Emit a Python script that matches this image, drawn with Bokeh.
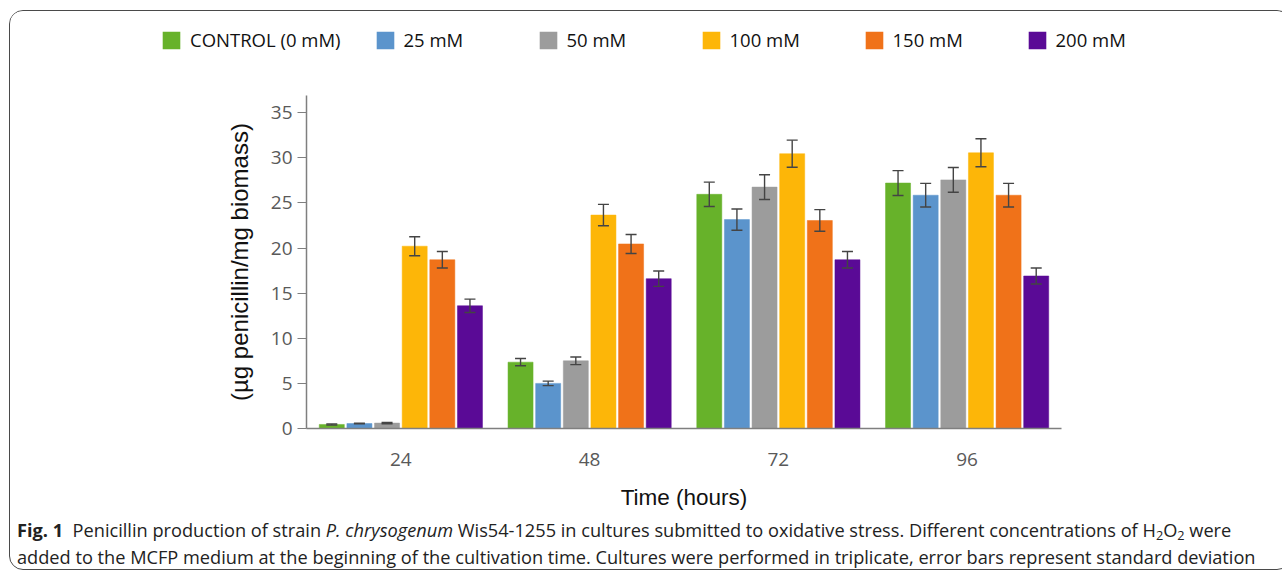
from bokeh.plotting import figure
from bokeh.models import (ColumnDataSource, Whisker, Legend, LegendItem, Div,
                          FactorRange, Range1d, TeeHead, FixedTicker)
from bokeh.transform import dodge
from bokeh.layouts import column, row
from bokeh.embed import file_html
from bokeh.resources import INLINE

# ---- data ----
times = ["24", "48", "72", "96"]
series = ["CONTROL (0 mM)", "25 mM", "50 mM", "100 mM", "150 mM", "200 mM"]

control = [0.45, 7.35, 25.95, 27.2]
control_sd = [0.06, 0.40, 1.35, 1.38]
mm25 = [0.55, 5.0, 23.15, 25.85]
mm25_sd = [0.04, 0.25, 1.18, 1.31]
mm50 = [0.60, 7.5, 26.75, 27.55]
mm50_sd = [0.07, 0.42, 1.37, 1.37]
mm100 = [20.2, 23.65, 30.45, 30.55]
mm100_sd = [1.05, 1.18, 1.50, 1.55]
mm150 = [18.7, 20.45, 23.05, 25.85]
mm150_sd = [0.92, 1.05, 1.20, 1.31]
mm200 = [13.6, 16.6, 18.7, 16.9]
mm200_sd = [0.74, 0.85, 0.92, 0.88]

y_ticks = [0, 5, 10, 15, 20, 25, 30, 35]

values = [control, mm25, mm50, mm100, mm150, mm200]
sds = [control_sd, mm25_sd, mm50_sd, mm100_sd, mm150_sd, mm200_sd]
colors = ["#67b22a", "#5b94cc", "#9c9c9c", "#fdb608", "#f07219", "#5a0a96"]

# ---- legend strip (separate figure above the chart) ----
lg = figure(width=1270, height=84, output_backend="svg", toolbar_location=None,
            x_range=Range1d(0, 1), y_range=Range1d(0, 1),
            min_border_left=0, min_border_right=0, min_border_top=0,
            min_border_bottom=0)
lg.axis.visible = False
lg.grid.visible = False
lg.outline_line_color = None

# ---- main chart ----
p = figure(x_range=FactorRange(factors=times), y_range=Range1d(0, 36.9),
           width=1270, height=417, output_backend="svg", toolbar_location=None,
           min_border_left=296, min_border_right=219, min_border_top=0,
           min_border_bottom=84)
p.outline_line_color = None
p.xgrid.visible = False
p.ygrid.visible = False

pitch = 0.1464
bw = 0.1326
items = []
for i, (name, vals, sd, col) in enumerate(zip(series, values, sds, colors)):
    src = ColumnDataSource(dict(
        x=times, top=vals,
        upper=[v + s for v, s in zip(vals, sd)],
        lower=[v - s for v, s in zip(vals, sd)]))
    off = (i - 2.5) * pitch
    p.vbar(x=dodge("x", off, range=p.x_range), top="top", width=bw,
           source=src, fill_color=col, line_color=col, line_width=0.5)
    w = Whisker(base=dodge("x", off, range=p.x_range), upper="upper", lower="lower",
                source=src, line_color="#444444", line_width=1.4, level="overlay",
                upper_head=TeeHead(size=11, line_color="#444444", line_width=1.4),
                lower_head=TeeHead(size=11, line_color="#444444", line_width=1.4))
    p.add_layout(w)
    # zero-size swatch renderer: only supplies the legend colour
    r = lg.vbar(x=[0], top=[0], width=0, fill_color=col, line_color=col, line_width=0)
    items.append(LegendItem(label=name, renderers=[r]))

legend = Legend(items=items, orientation="horizontal", location=(150, 43),
                glyph_width=22, glyph_height=22, label_width=100, spacing=33,
                label_standoff=8, padding=0, margin=0,
                border_line_color=None, background_fill_alpha=0,
                label_text_font="Open Sans", label_text_font_size="18.5px",
                label_text_color="#111111")
lg.add_layout(legend, "center")

# axes
for ax in (p.xaxis, p.yaxis):
    ax.axis_line_color = "#7f7f7f"
    ax.axis_line_width = 1.5
    ax.major_label_text_font = "Open Sans"
    ax.major_label_text_font_size = "19px"
    ax.major_label_text_color = "#595959"
    ax.minor_tick_line_color = None
    ax.axis_label_text_font = "Liberation Sans"
    ax.axis_label_text_font_style = "normal"
    ax.axis_label_text_color = "#111111"

p.xaxis.major_tick_line_color = None
p.xaxis.major_label_standoff = 18
p.xaxis.axis_label = "Time (hours)"
p.xaxis.axis_label_text_font_size = "22.5px"
p.xaxis.axis_label_standoff = 16

p.yaxis.ticker = FixedTicker(ticks=y_ticks)
p.yaxis.major_tick_line_color = "#7f7f7f"
p.yaxis.major_tick_out = 9
p.yaxis.major_tick_in = 0
p.yaxis.major_label_standoff = 5
p.yaxis.axis_label = "(µg penicillin/mg biomass)"
p.yaxis.axis_label_text_font_size = "24px"
p.yaxis.axis_label_standoff = 15

sub = "<sub style='font-size:0.7em;line-height:0;vertical-align:-0.25em'>2</sub>"
caption = Div(
    text=("<b>Fig. 1</b>&nbsp; Penicillin production of strain <i>P. chrysogenum</i> "
          "Wis54-1255 in cultures submitted to oxidative stress. Different concentrations "
          "of H" + sub + "O" + sub + " were<br>"
          "added to the MCFP medium at the beginning of the cultivation time. Cultures were "
          "performed in triplicate, error bars represent standard deviation"),
    width=1270, height=54,
    styles={"font-family": "'Open Sans'", "font-size": "18.2px", "line-height": "27px",
            "color": "#222222", "white-space": "nowrap", "padding-left": "2px",
            "overflow": "hidden"})

layout = column(row(lg), p, caption, margin=(10, 0, 0, 9),
                styles={"border": "1.5px solid #4a4a4a", "border-radius": "14px",
                        "overflow": "hidden", "background-color": "white",
                        "height": "560px", "box-sizing": "border-box"})

open("out.html", "w").write(file_html(layout, INLINE))
